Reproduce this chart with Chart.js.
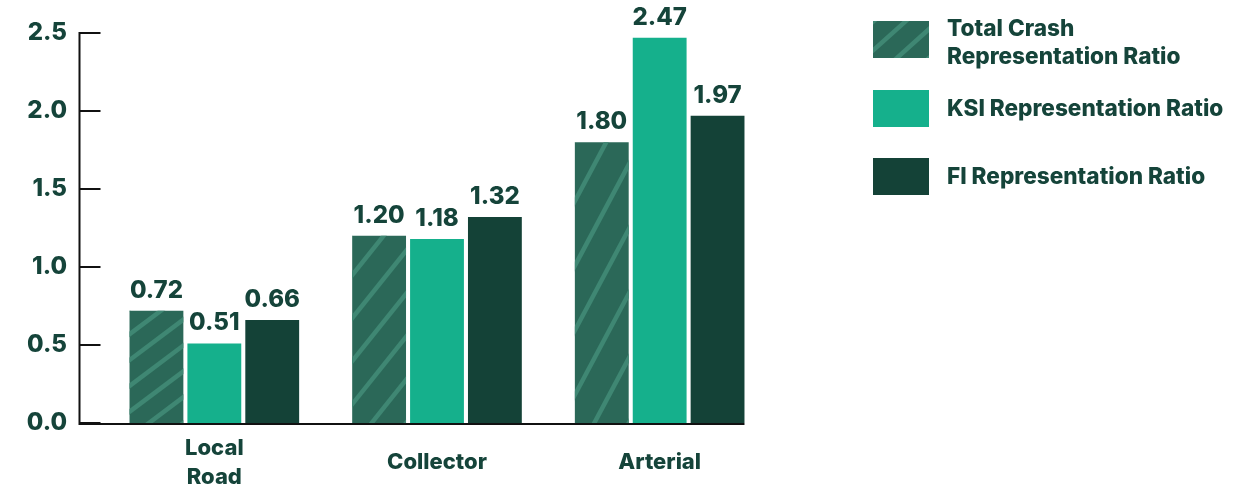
<!DOCTYPE html>
<html lang="en">
<head>
<meta charset="UTF-8">
<title>Representation Ratio by Road Type</title>
<script src="https://cdn.jsdelivr.net/npm/chart.js"></script>
<style>
    html, body { margin: 0; padding: 0; background: #fff; }
    .chart-container { position: relative; width: 1251px; height: 488px; }
</style>
</head>
<body>
<div class="chart-container"><canvas id="ratioChart"></canvas></div>
<script>
// data
const roadTypes = [['Local', 'Road'], 'Collector', 'Arterial'];
const seriesNames = ['Total Crash Representation Ratio', 'KSI Representation Ratio', 'FI Representation Ratio'];
const legendLines = [['Total Crash', 'Representation Ratio'], ['KSI Representation Ratio'], ['FI Representation Ratio']];
const totalCrashRatio = [0.72, 1.20, 1.80];
const ksiRatio = [0.51, 1.18, 2.47];
const fiRatio = [0.66, 1.32, 1.97];
const yTicks = [0, 0.5, 1.0, 1.5, 2.0, 2.5];

const textColor = '#15443a';
const axisColor = '#111';
const barColors = ['#2b6858', '#15b08c', '#144237'];
const stripeColor = '#3f8773';
const numFont = '800 24px Inter';

function drawStripes(ctx, x0, top, w, h, k, dv) {
    // lines v = k*u + c in the bar's own unit box
    ctx.save();
    ctx.beginPath();
    ctx.rect(x0, top, w, h);
    ctx.clip();
    ctx.strokeStyle = stripeColor;
    ctx.lineWidth = 4.5;
    for (let c = -k - dv; c < 1 + dv; c += dv) {
        ctx.beginPath();
        ctx.moveTo(x0 - 0.2 * w, top + h - (c - 0.2 * k) * h);
        ctx.lineTo(x0 + 1.2 * w, top + h - (c + 1.2 * k) * h);
        ctx.stroke();
    }
    ctx.restore();
}

const stripePlugin = {
    id: 'stripes',
    afterDatasetsDraw(chart) {
        const ctx = chart.ctx;
        chart.getDatasetMeta(0).data.forEach(bar => {
            const w = bar.width, h = bar.base - bar.y;
            drawStripes(ctx, bar.x - w / 2, bar.y, w, h, 0.36, 0.23);
        });
    }
};

const axesPlugin = {
    id: 'axes',
    afterDatasetsDraw(chart) {
        const ctx = chart.ctx;
        const y = chart.scales.y;
        const axisX = 79.5;
        const last = chart.getDatasetMeta(2).data[2];
        const rightEnd = last.x + last.width / 2;
        ctx.save();
        ctx.strokeStyle = axisColor;
        ctx.lineWidth = 2;
        ctx.beginPath();
        ctx.moveTo(axisX, y.getPixelForValue(2.5) - 1);
        ctx.lineTo(axisX, y.getPixelForValue(0) + 1);
        ctx.lineTo(rightEnd, y.getPixelForValue(0) + 1);
        yTicks.forEach(v => {
            const py = y.getPixelForValue(v);
            ctx.moveTo(axisX, py);
            ctx.lineTo(axisX + 21, py);
        });
        ctx.stroke();
        ctx.restore();
    }
};

const valuePlugin = {
    id: 'values',
    afterDatasetsDraw(chart) {
        const ctx = chart.ctx;
        ctx.save();
        ctx.font = numFont;
        ctx.fillStyle = textColor;
        ctx.textAlign = 'center';
        ctx.textBaseline = 'alphabetic';
        chart.data.datasets.forEach((ds, i) => {
            chart.getDatasetMeta(i).data.forEach((bar, j) => {
                ctx.fillText(ds.data[j].toFixed(2), bar.x, bar.y - 13);
            });
        });
        ctx.restore();
    }
};

const legendPlugin = {
    id: 'sideLegend',
    afterDraw(chart) {
        const ctx = chart.ctx;
        const boxX = 873, boxW = 56, boxH = 37;
        const boxTops = [21, 90, 158];
        ctx.save();
        legendLines.forEach((lines, i) => {
            ctx.fillStyle = barColors[i];
            ctx.fillRect(boxX, boxTops[i], boxW, boxH);
            if (i === 0) drawStripes(ctx, boxX, boxTops[i], boxW, boxH, 1.36, 0.78);
            ctx.fillStyle = textColor;
            ctx.font = '800 22.6px Inter';
            ctx.textAlign = 'left';
            ctx.textBaseline = 'alphabetic';
            const first = lines.length > 1 ? 36 : boxTops[i] + 26;
            lines.forEach((t, n) => ctx.fillText(t, 947, first + n * 28));
        });
        ctx.restore();
    }
};

const ctx = document.getElementById('ratioChart').getContext('2d');
new Chart(ctx, {
    type: 'bar',
    data: {
        labels: roadTypes,
        datasets: [
            { label: seriesNames[0], data: totalCrashRatio, backgroundColor: barColors[0] },
            { label: seriesNames[1], data: ksiRatio, backgroundColor: barColors[1] },
            { label: seriesNames[2], data: fiRatio, backgroundColor: barColors[2] }
        ]
    },
    options: {
        responsive: true,
        maintainAspectRatio: false,
        animation: false,
        layout: { padding: { top: 33, right: 480, bottom: 0, left: 0 } },
        datasets: { bar: { categoryPercentage: 0.78, barPercentage: 0.93 } },
        plugins: { legend: { display: false }, tooltip: { enabled: false } },
        scales: {
            x: {
                grid: { display: false, drawTicks: false },
                border: { display: false },
                ticks: {
                    color: textColor,
                    font: { family: 'Inter', weight: '800', size: 22, lineHeight: 1.32 },
                    padding: 25,
                    crossAlign: 'center',
                    maxRotation: 0
                },
                afterFit(scale) { scale.height = 65; }
            },
            y: {
                min: 0,
                max: 2.5,
                // tick marks themselves are drawn by the axes plugin; tickLength only spaces the labels
                grid: { display: false, drawTicks: true, tickLength: 36 },
                border: { display: false },
                afterBuildTicks(scale) { scale.ticks = yTicks.map(v => ({ value: v })); },
                ticks: {
                    color: textColor,
                    font: { family: 'Inter', weight: '800', size: 24 },
                    padding: 0,
                    callback: v => v.toFixed(1)
                },
                afterFit(scale) { scale.width = 103; }
            }
        }
    },
    plugins: [stripePlugin, axesPlugin, valuePlugin, legendPlugin]
});
</script>
</body>
</html>
